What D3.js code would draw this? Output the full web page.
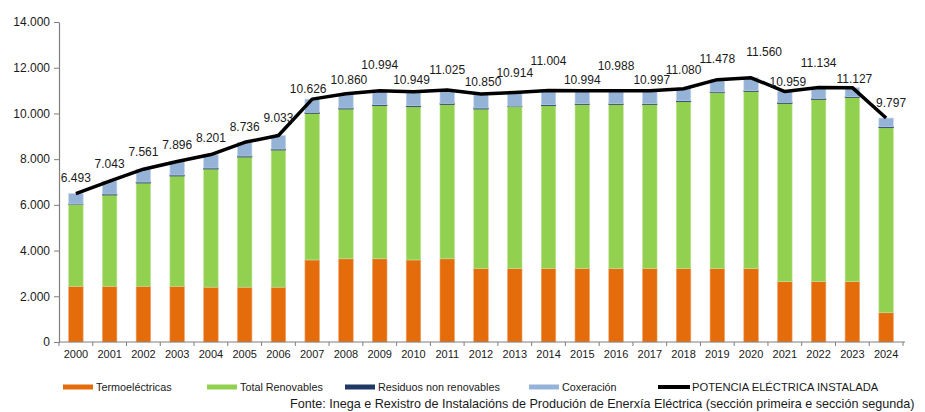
<!DOCTYPE html>
<html>
<head>
<meta charset="utf-8">
<script src="https://cdn.jsdelivr.net/npm/d3@7"></script>
<style>
  body { margin: 0; background: #fff; }
  svg { display: block; font-family: "Liberation Sans", Arial, sans-serif; }
</style>
</head>
<body>
<div id="wrapper"></div>
<script>
// data (MW)
const years = d3.range(2000, 2025).map(String);
const termo = [2440, 2440, 2440, 2440, 2400, 2400, 2400, 3590, 3640, 3640, 3590, 3640,
  3220, 3220, 3220, 3220, 3220, 3220, 3220, 3220, 3220, 2640, 2640, 2640, 1280];
const renovables = [3584, 3990, 4515, 4822, 5168, 5693, 5999, 6414, 6552, 6697, 6703, 6755,
  6972, 7073, 7117, 7175, 7175, 7175, 7292, 7686, 7744, 7800, 7975, 8062, 8094];
const residuos = [10, 40, 40, 40, 40, 40, 40, 40, 40, 40, 40, 40,
  40, 20, 40, 30, 30, 30, 40, 30, 30, 40, 40, 30, 40];
const coxeracion = [459, 573, 566, 594, 593, 603, 594, 582, 628, 617, 616, 590,
  618, 601, 627, 569, 563, 572, 528, 542, 566, 479, 479, 395, 383];
const potencia = [6493, 7043, 7561, 7896, 8201, 8736, 9033, 10626, 10860, 10994, 10949, 11025,
  10850, 10914, 11004, 10994, 10988, 10997, 11080, 11478, 11560, 10959, 11134, 11127, 9797];
const yTicks = [0, 2000, 4000, 6000, 8000, 10000, 12000, 14000];

// label nudges (px)
const labelDx = [0, 0, 0, 0, 0, 0, 0, -4, 3, 0, -2, 0, 2, 0, 0, 0, 0, 2, 0, 0, 13, 3, 0, 2, 5];
const labelDy = [15.5, 17, 17, 16.5, 16.5, 16, 17.5, 10, 14, 26, 12, 20, 12, 19.5, 29.5, 11,
  25, 10.6, 19, 21, 25.7, 9.5, 25, 8.6, 15.3];

const series = [
  { key: "Termoeléctricas", values: termo, color: "#e46c0a", edge: "#f2a36a" },
  { key: "Total Renovables", values: renovables, color: "#92d050", edge: "#c3e5a0" },
  { key: "Residuos non renovables", values: residuos, color: "#1f3864", edge: "#1f3864" },
  { key: "Coxeración", values: coxeracion, color: "#95b3d7", edge: "#c5d6ea" },
];

const fmt = v => d3.format(",")(v).replace(/,/g, ".");

const dimensions = { width: 925, height: 412, left: 59, right: 903, top: 22, bottom: 342 };

const svg = d3.select("#wrapper").append("svg")
  .attr("width", dimensions.width)
  .attr("height", dimensions.height);

const xScale = d3.scaleBand()
  .domain(years)
  .range([dimensions.left, dimensions.right])
  .paddingInner(0.57)
  .paddingOuter(0.285);
const yScale = d3.scaleLinear()
  .domain([0, 14000])
  .range([dimensions.bottom, dimensions.top]);

// stacked bars
const table = years.map((y, i) => {
  const row = { year: y };
  series.forEach(s => row[s.key] = s.values[i]);
  return row;
});
const stacked = d3.stack().keys(series.map(s => s.key))(table);

svg.append("g").selectAll("g")
  .data(stacked)
  .join("g")
  .attr("fill", (d, i) => series[i].color)
  .attr("stroke", (d, i) => series[i].edge)
  .attr("stroke-width", 0.6)
  .selectAll("rect")
  .data(d => d)
  .join("rect")
  .attr("x", d => xScale(d.data.year))
  .attr("width", xScale.bandwidth())
  .attr("y", d => yScale(d[1]))
  .attr("height", d => yScale(d[0]) - yScale(d[1]));

// y axis
const yAxis = svg.append("g")
  .attr("transform", `translate(${dimensions.left},0)`)
  .call(d3.axisLeft(yScale).tickValues(yTicks).tickFormat(fmt).tickSize(5).tickPadding(4).tickSizeOuter(0));
yAxis.select(".domain").attr("stroke", "#7f7f7f").attr("stroke-width", 1.2);
yAxis.selectAll(".tick line").attr("stroke", "#7f7f7f");
yAxis.selectAll("text").attr("font-size", 12).attr("fill", "#1a1a1a");

// x axis
const xAxis = svg.append("g")
  .attr("transform", `translate(0,${dimensions.bottom})`)
  .call(d3.axisBottom(xScale).tickSize(0).tickPadding(8));
xAxis.select(".domain").remove();
xAxis.selectAll("text").attr("font-size", 11).attr("fill", "#1a1a1a");
xAxis.append("line")
  .attr("x1", dimensions.left).attr("x2", dimensions.right + 2)
  .attr("stroke", "#7f7f7f").attr("stroke-width", 1.2);
xAxis.selectAll(".sep")
  .data(years.concat(["end"]))
  .join("line")
  .attr("class", "sep")
  .attr("x1", (d, i) => dimensions.left + i * xScale.step())
  .attr("x2", (d, i) => dimensions.left + i * xScale.step())
  .attr("y1", 0).attr("y2", 4)
  .attr("stroke", "#7f7f7f");

// total line
const line = d3.line()
  .x((d, i) => xScale(years[i]) + xScale.bandwidth() / 2)
  .y(d => yScale(d));
svg.append("path")
  .datum(potencia)
  .attr("d", line)
  .attr("fill", "none")
  .attr("stroke", "#000")
  .attr("stroke-width", 3.5)
  .attr("stroke-linejoin", "round");

svg.append("g").selectAll("text")
  .data(potencia)
  .join("text")
  .attr("x", (d, i) => xScale(years[i]) + xScale.bandwidth() / 2 + labelDx[i])
  .attr("y", (d, i) => yScale(d) - labelDy[i])
  .attr("dy", "0.35em")
  .attr("text-anchor", "middle")
  .attr("font-size", 12)
  .attr("fill", "#1a1a1a")
  .text(fmt);

// legend
const legendItems = [
  { label: "Termoeléctricas", color: "#e46c0a", x: 63 },
  { label: "Total Renovables", color: "#92d050", x: 207 },
  { label: "Residuos non renovables", color: "#1f3864", x: 345 },
  { label: "Coxeración", color: "#95b3d7", x: 529 },
];
const legend = svg.append("g").attr("transform", "translate(0,387)");
legendItems.forEach(it => {
  legend.append("rect")
    .attr("x", it.x).attr("y", -2.5)
    .attr("width", 30).attr("height", 5)
    .attr("fill", it.color);
  legend.append("text")
    .attr("x", it.x + 33).attr("dy", "0.35em")
    .attr("font-size", 10.8).attr("fill", "#1a1a1a")
    .text(it.label);
});
legend.append("line")
  .attr("x1", 658).attr("x2", 690)
  .attr("stroke", "#000").attr("stroke-width", 4);
legend.append("text")
  .attr("x", 692).attr("dy", "0.35em")
  .attr("font-size", 11.2).attr("fill", "#1a1a1a")
  .text("POTENCIA ELÉCTRICA INSTALADA");

// source
svg.append("text")
  .attr("x", 290).attr("y", 408)
  .attr("font-size", 12.6)
  .attr("fill", "#1a1a1a")
  .text("Fonte: Inega e Rexistro de Instalacións de Produción de Enerxía Eléctrica (sección primeira e sección segunda)");
</script>
</body>
</html>
